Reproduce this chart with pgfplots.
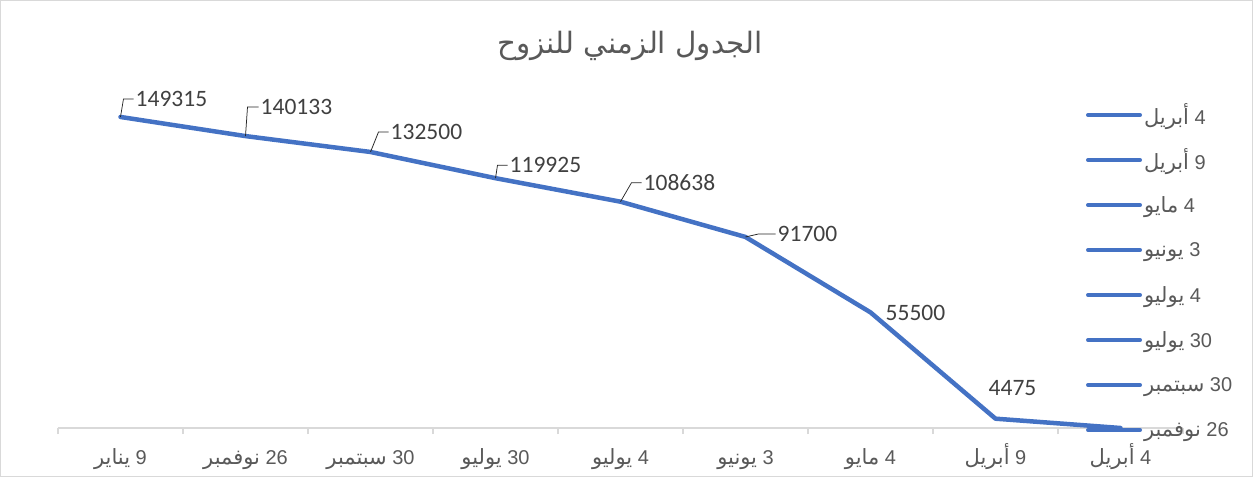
\documentclass[border=0pt]{standalone}
\usepackage{pgfplots}
\pgfplotsset{compat=1.18}
\usepackage{pgfplotstable}
\usepackage{fontspec}
\setmainfont{Liberation Sans}
\newfontfamily\arabicfont[Script=Arabic, Scale=1.05]{DejaVu Sans}
\newfontfamily\calibri{Carlito}
\TeXXeTstate=1
\definecolor{lineblue}{HTML}{4472C4}
\definecolor{txtgray}{HTML}{595959}
\definecolor{lblgray}{HTML}{404040}
\definecolor{axgray}{HTML}{D9D9D9}
\newcommand{\ar}[2]{\beginR\beginL#1\endL\ {\arabicfont #2}\endR}

\pgfplotstableread{
x y
0 149315
1 140133
2 132500
3 119925
4 108638
5 91700
6 55500
7 4475
8 0
}\maintable

% tx,ty: label west anchor relative to point; sx,sy,cx,ex: leader relative to label west anchor
\pgfplotstableread{
x y tx ty sx sy cx ex
0 149315 15 18 -15 -18 -12 -2
1 140133 15 29 -15 -29 -13 -2
2 132500 20 20 -20 -20 -12 -2
3 119925 14 13 -14 -13 -12 -2
4 108638 23 19 -23 -19 -12 -2
5 91700 32 3 -32 -3 -19 -2
6 55500 15 -1 0 0 0 0
7 4475 -7 31 0 0 0 0
}\labtable

\begin{document}
\begin{tikzpicture}
\useasboundingbox (-58pt,-49pt) rectangle (1195pt,428pt);
\draw[axgray, line width=1pt] (-57pt,-48pt) rectangle (1194pt,427pt);
\begin{axis}[
  scale only axis, width=1125pt, height=333.3pt,
  xmin=-0.5, xmax=8.5, ymin=0, ymax=160000,
  axis x line=bottom, axis y line=none,
  x axis line style={-, axgray, line width=1.2pt},
  xtick={0,...,8},
  xticklabels={{\ar{9}{يناير}},{\ar{26}{نوفمبر}},{\ar{30}{سبتمبر}},{\ar{30}{يوليو}},{\ar{4}{يوليو}},{\ar{3}{يونيو}},{\ar{4}{مايو}},{\ar{9}{أبريل}},{\ar{4}{أبريل}}},
  major x tick style={draw=none},
  minor xtick={-0.5,0.5,...,8.5},
  minor x tick style={axgray, line width=1.2pt},
  minor tick length=6pt, tick align=outside,
  xticklabel style={font=\fontsize{20}{23}\selectfont, text=txtgray, anchor=base, yshift=-32pt},
  clip=false,
  title={\arabicfont\beginR الجدول الزمني للنزوح\endR},
  title style={at={(axis description cs:0.5084,1.128)}, anchor=center, font=\fontsize{28}{32}\selectfont, text=txtgray},
  legend style={at={(axis description cs:0.9138,1.0066)}, anchor=north west, draw=none, fill=none, inner sep=0pt, outer sep=0pt, column sep=0pt, row sep=0pt,
    font=\fontsize{20}{23}\selectfont, text=txtgray,
    nodes={inner xsep=2pt, inner ysep=0pt, minimum height=45pt, font=\fontsize{20}{23}\selectfont, text=txtgray}},
  legend cell align=left,
  legend image code/.code={\draw[#1, line width=4pt, line cap=round] (0pt,0pt) -- (52pt,0pt);},
]
\addplot[lineblue, line width=4.5pt, line join=round, line cap=round] table[x=x,y=y]{\maintable};
\addlegendentry{\ar{4}{أبريل}}

\addplot[forget plot, draw=none, mark=none,
  visualization depends on={\thisrow{tx}\as\labx},
  visualization depends on={\thisrow{ty}\as\laby},
  visualization depends on={\thisrow{sx}\as\lsx},
  visualization depends on={\thisrow{sy}\as\lsy},
  visualization depends on={\thisrow{cx}\as\lcx},
  visualization depends on={\thisrow{ex}\as\lex},
  nodes near coords={\pgfmathprintnumber[fixed,precision=0,1000 sep={},assume math mode=true]{\pgfplotspointmeta}},
  every node near coord/.append style={anchor=west, xshift=\labx pt, yshift=\laby pt, font=\calibri\fontsize{23.5}{28}\selectfont, text=lblgray, inner sep=0pt,
    append after command={\pgfextra{\draw[black!85, line width=0.75pt] ([shift={(\lsx pt,\lsy pt)}]\tikzlastnode.west) -- ([shift={(\lcx pt,0pt)}]\tikzlastnode.west) -- ([shift={(\lex pt,0pt)}]\tikzlastnode.west);}}},
] table[x=x,y=y]{\labtable};

\addlegendimage{lineblue}\addlegendentry{\ar{9}{أبريل}}
\addlegendimage{lineblue}\addlegendentry{\ar{4}{مايو}}
\addlegendimage{lineblue}\addlegendentry{\ar{3}{يونيو}}
\addlegendimage{lineblue}\addlegendentry{\ar{4}{يوليو}}
\addlegendimage{lineblue}\addlegendentry{\ar{30}{يوليو}}
\addlegendimage{lineblue}\addlegendentry{\ar{30}{سبتمبر}}
\addlegendimage{lineblue}\addlegendentry{\ar{26}{نوفمبر}}
\end{axis}
\end{tikzpicture}
\end{document}
